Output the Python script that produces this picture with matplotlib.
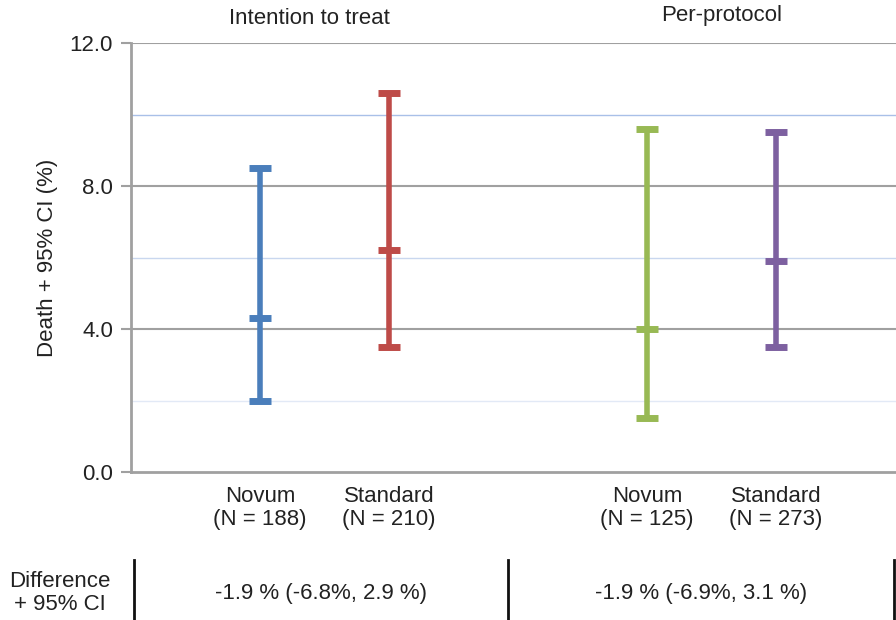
import matplotlib
matplotlib.use('Agg')
import matplotlib.pyplot as plt

plt.rcParams['font.family'] = ['Liberation Sans', 'DejaVu Sans']

# data
groups = ['Intention to treat', 'Per-protocol']
arms = ['Novum', 'Standard', 'Novum', 'Standard']
n_labels = ['(N = 188)', '(N = 210)', '(N = 125)', '(N = 273)']
est = [4.3, 6.2, 4.0, 5.9]
lower = [2.0, 3.5, 1.5, 3.5]
upper = [8.5, 10.6, 9.6, 9.5]
colors = ['#4a7ebb', '#be4b48', '#98b954', '#7d60a0']
xpos = [1, 2, 4, 5]
diffs = ['-1.9 % (-6.8%, 2.9 %)', '-1.9 % (-6.9%, 3.1 %)']

FS = 16
TXT = '#222222'

fig = plt.figure(figsize=(8.96, 6.2), dpi=100)
ax = fig.add_axes([131/896, 1 - 472/620, 1 - 131/896, 429/620])

# gridlines
for y, c in [(2, '#e2e9f6'), (6, '#c9d7ef'), (10, '#a9c0e8')]:
    ax.axhline(y, color=c, lw=1.0, zorder=1)
for y in [4, 8, 12]:
    ax.axhline(y, color='#a0a0a0', lw=1.5, zorder=1)

for x, m, lo, hi, c in zip(xpos, est, lower, upper, colors):
    ax.vlines(x, lo, hi, color=c, lw=4, zorder=3)
    for yy in (lo, m, hi):
        ax.hlines(yy, x - 0.085, x + 0.085, color=c, lw=5, zorder=3)

ax.set_xlim(0, 5.93)
ax.set_ylim(0, 12)
ax.set_yticks([0, 4, 8, 12])
ax.set_yticklabels(['0.0', '4.0', '8.0', '12.0'], fontsize=FS, color=TXT)
ax.tick_params(axis='y', length=7, width=1.5, color='#a0a0a0', pad=6)
ax.set_xticks([])
for s in ['top', 'right']:
    ax.spines[s].set_visible(False)
for s in ['left', 'bottom']:
    ax.spines[s].set_color('#a0a0a0')
    ax.spines[s].set_linewidth(2)
ax.set_ylabel('Death + 95% CI (%)', fontsize=FS, labelpad=8, color=TXT)

# group titles
fig.text(309/896, 1 - 18/620, groups[0], fontsize=FS, ha='center', va='center', color=TXT)
fig.text(722/896, 1 - 15/620, groups[1], fontsize=FS, ha='center', va='center', color=TXT)

# category labels
for x, a, n in zip(xpos, arms, n_labels):
    ax.text(x, -0.4, a + '\n' + n, ha='center', va='top', fontsize=FS,
            linespacing=1.08, color=TXT, clip_on=False)

# difference table
fig.text(60/896, 1 - 593/620, 'Difference\n+ 95% CI', fontsize=FS, ha='center', va='center',
         linespacing=1.08, color=TXT)
for xl in [134, 508, 894]:
    fig.add_artist(plt.Line2D([xl/896, xl/896], [0, 1 - 560/620], color='#111111', lw=2))
fig.text(321/896, 1 - 593/620, diffs[0], fontsize=FS, ha='center', va='center', color=TXT)
fig.text(701/896, 1 - 593/620, diffs[1], fontsize=FS, ha='center', va='center', color=TXT)

fig.savefig('out.png', dpi=100)
